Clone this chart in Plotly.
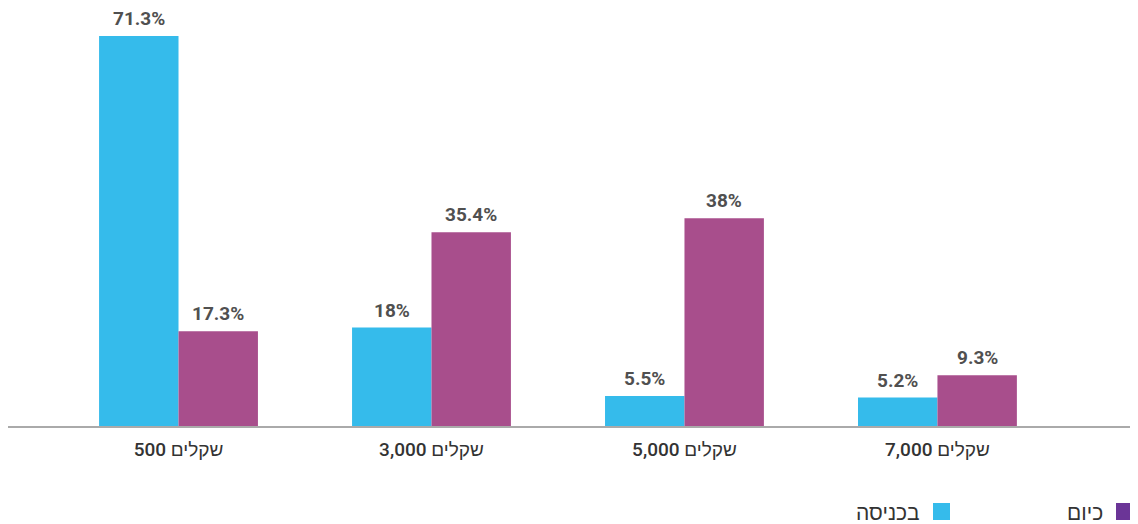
import plotly.graph_objects as go

categories = ["\u200eשקלים 500", "\u200eשקלים 3,000", "\u200eשקלים 5,000", "\u200eשקלים 7,000"]
series_names = ["בכניסה", "כיום"]
entry_values = [71.3, 18, 5.5, 5.2]
today_values = [17.3, 35.4, 38, 9.3]
entry_labels = ["71.3%", "18%", "5.5%", "5.2%"]
today_labels = ["17.3%", "35.4%", "38%", "9.3%"]

bar_colors = ["#35BBEB", "#A84E8C"]
legend_colors = ["#35BBEB", "#6B3597"]

x = list(range(len(categories)))

PW, PH = 1125, 416  # plot area size in px
OX, BASE = 8, 426   # page x of plot left, page y of baseline


def px(page_x):
    return (page_x - OX) / PW


def py(page_y):
    return (BASE - page_y) / PH


fig = go.Figure()
fig.add_trace(go.Bar(x=x, y=entry_values, name=series_names[0], marker_color=bar_colors[0],
                     marker_line_width=0, showlegend=False, hoverinfo="skip"))
fig.add_trace(go.Bar(x=x, y=today_values, name=series_names[1], marker_color=bar_colors[1],
                     marker_line_width=0, showlegend=False, hoverinfo="skip"))

label_font = dict(family="Roboto, sans-serif", size=19, color="#505050")
half = (1 - 0.372) / 4
for i in x:
    fig.add_annotation(x=i - half, y=entry_values[i], text="<b>%s</b>" % entry_labels[i],
                       showarrow=False, yanchor="bottom", yshift=4, font=label_font)
    fig.add_annotation(x=i + half, y=today_values[i], text="<b>%s</b>" % today_labels[i],
                       showarrow=False, yanchor="bottom", yshift=4, font=label_font)

# Manual RTL legend (marker on the right of the text)
legend_items = [(series_names[1], legend_colors[1], 1133), (series_names[0], legend_colors[0], 950)]
for name, color, right in legend_items:
    fig.add_shape(type="rect", xref="paper", yref="paper",
                  x0=px(right - 17), x1=px(right),
                  y0=py(520), y1=py(503),
                  fillcolor=color, line_width=0)
    fig.add_annotation(xref="paper", yref="paper", x=px(right - 17 - 11),
                       y=py(512), text=name, showarrow=False,
                       xanchor="right", yanchor="middle",
                       font=dict(family="Liberation Sans, DejaVu Sans, sans-serif", size=21, color="#333333"))

fig.update_layout(
    width=1130, height=516,
    margin=dict(l=0, r=5, t=2, b=98),
    paper_bgcolor="white", plot_bgcolor="white",
    barmode="group", bargap=0.372, bargroupgap=0,
    xaxis=dict(range=[-0.674, 3.773], tickmode="array", tickvals=x, ticktext=categories,
               showline=True, linecolor="#AAAAAA", linewidth=2, showgrid=False, zeroline=False,
               ticks="", ticklabelstandoff=5,
               tickfont=dict(family="Roboto, Liberation Sans, sans-serif", size=19,
                             color="#333333", weight=500)),
    yaxis=dict(range=[0, 76.05], visible=False, showgrid=False, zeroline=False),
)

fig.write_html("out.html")
